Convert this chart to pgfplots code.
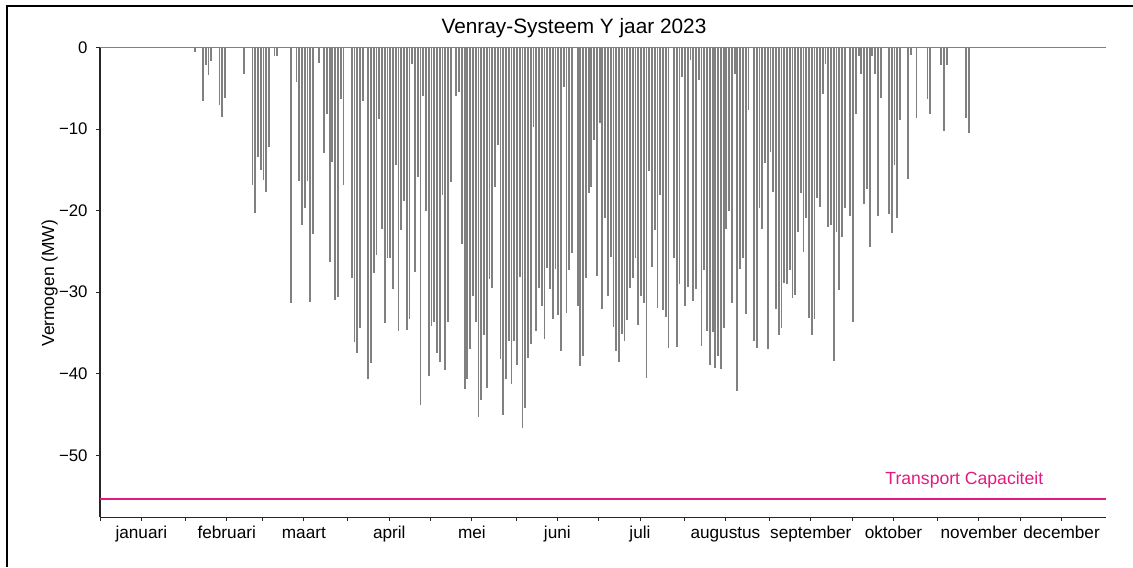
\documentclass[border=0pt]{standalone}
\usepackage{fontspec}
\setmainfont{Liberation Sans}
\usepackage{pgfplots}
\pgfplotsset{compat=1.18}
\usepackage{pgfplotstable}
\definecolor{capcol}{RGB}{228,25,128}
\definecolor{bargray}{RGB}{128,128,128}

\pgfplotstableread{
d v
34 -0.6
37 -6.6
38 -2.2
39 -3.4
40 -1.6
43 -7.1
44 -8.5
45 -6.2
52 -3.2
55 -16.9
56 -20.3
57 -13.4
58 -15.0
59 -16.3
60 -17.7
61 -12.2
63 -1.1
64 -1.1
69 -31.3
71 -4.2
72 -16.4
73 -21.8
74 -19.7
75 -16.4
76 -31.2
77 -22.9
79 -1.9
81 -12.9
82 -8.1
83 -26.3
84 -14.0
85 -30.9
86 -30.6
87 -6.3
88 -16.8
91 -28.3
92 -36.1
93 -37.5
94 -34.4
95 -6.5
97 -40.6
98 -38.7
99 -27.7
100 -25.4
101 -8.8
102 -22.2
103 -33.8
104 -25.8
105 -25.8
106 -29.6
107 -14.4
108 -34.8
109 -22.4
110 -18.8
111 -34.6
112 -33.3
113 -2.0
114 -27.5
115 -15.9
116 -43.8
117 -6.0
118 -20.1
119 -40.3
120 -34.2
121 -33.6
122 -37.4
123 -38.6
124 -18.1
125 -39.6
126 -33.6
127 -16.5
129 -5.9
130 -5.5
131 -24.1
132 -41.9
133 -40.7
134 -37.0
135 -30.5
136 -33.6
137 -45.3
138 -43.2
139 -35.2
140 -41.7
141 -28.4
142 -29.5
143 -17.1
144 -12.0
145 -38.2
146 -45.1
147 -40.7
148 -36.0
149 -41.3
150 -36.0
151 -38.9
152 -28.1
153 -46.6
154 -44.2
155 -38.1
156 -36.4
157 -9.8
158 -34.8
159 -29.5
160 -31.7
161 -35.7
162 -27.0
163 -29.6
164 -33.3
165 -27.2
166 -32.8
167 -37.2
168 -4.8
169 -32.6
170 -27.3
171 -25.2
173 -31.7
174 -39.1
175 -37.8
176 -28.2
177 -17.9
178 -17.1
179 -11.3
180 -28.0
181 -9.3
182 -32.1
183 -20.9
184 -30.5
185 -25.7
186 -34.3
187 -37.2
188 -38.5
189 -35.1
190 -36.0
191 -33.4
192 -29.5
193 -28.2
194 -25.8
195 -34.0
196 -30.5
197 -31.3
198 -40.5
199 -15.2
200 -26.9
201 -22.4
202 -31.9
203 -18.1
204 -32.2
205 -33.0
206 -36.8
208 -25.8
209 -36.7
210 -29.0
211 -3.6
212 -31.7
213 -29.4
214 -1.5
215 -31.1
216 -29.6
217 -4.0
218 -36.6
219 -27.3
220 -34.8
221 -38.9
222 -34.9
223 -39.3
224 -37.8
225 -39.4
226 -34.4
227 -22.2
228 -20.0
229 -31.3
230 -3.2
231 -42.1
232 -27.1
233 -25.8
234 -32.7
235 -7.7
237 -36.0
238 -36.8
239 -19.7
240 -22.2
241 -14.1
242 -37.0
243 -12.8
244 -17.7
245 -32.1
246 -35.3
247 -34.4
248 -28.9
249 -29.0
250 -27.3
251 -30.7
252 -30.3
253 -22.6
254 -17.9
255 -25.1
256 -20.9
257 -33.2
258 -35.3
259 -33.3
260 -18.5
261 -19.5
262 -5.7
263 -2.0
264 -22.0
265 -21.8
266 -38.4
267 -22.6
268 -29.7
269 -23.2
270 -19.7
272 -20.7
273 -33.7
274 -8.2
275 -1.0
276 -3.2
277 -19.2
278 -17.3
279 -24.5
280 -1.0
281 -3.2
282 -20.6
283 -6.2
286 -20.4
287 -22.7
288 -14.4
289 -20.9
290 -8.9
293 -16.1
294 -0.9
296 -8.6
300 -6.3
301 -8.1
305 -2.2
306 -10.2
307 -2.2
314 -8.7
315 -10.5
}\daily

\begin{document}
\begin{tikzpicture}
\useasboundingbox (-50pt,-24.85pt) rectangle (516.5pt,258.65pt);
\draw[line width=0.8pt] (-46.35pt,-24.85pt) -- (-46.35pt,255.65pt) -- (516.5pt,255.65pt);
\begin{axis}[
  at={(0pt,0pt)}, anchor=south west,
  scale only axis, width=502.8pt, height=234.9pt,
  xmin=0, xmax=365, ymin=-57.6, ymax=0,
  axis x line*=bottom, axis y line*=left,
  axis line style={black!85, line width=0.55pt, -},
  tick align=outside, major tick length=1.9pt,
  tick style={black!85, line width=0.5pt},
  xtick={0,31,59,90,120,151,181,212,243,273,304,334},
  xticklabels={},
  extra x ticks={15,46,74,105,135,166,196,227,258,288,319,349},
  extra x tick labels={januari,februari,maart,april,mei,juni,juli,augustus,september,oktober,november,december},
  extra x tick style={tick align=outside, major tick length=1.9pt,
    xticklabel style={anchor=base, inner sep=0pt, yshift=-8.85pt, font=\fontsize{8.6}{10}\selectfont}},
  ytick={-50,-40,-30,-20,-10,0},
  yticklabels={−50,−40,−30,−20,−10,0},
  yticklabel style={anchor=east, inner sep=0pt, xshift=-4.15pt, font=\fontsize{8.4}{10}\selectfont},
  clip=false,
]
\addplot[ycomb, draw=bargray, line width=0.9pt] table[x expr=\thisrow{d}+0.35, y=v] {\daily};
\addplot[bargray, line width=0.6pt] coordinates {(0,0) (365,0)};
\addplot[capcol, line width=1pt] coordinates {(0,-55.4) (365,-55.4)};
\end{axis}
\node[anchor=base, inner sep=0pt, font=\fontsize{10.4}{12}\selectfont] at (237pt,242pt) {Venray-Systeem Y jaar 2023};
\node[rotate=90, inner sep=0pt, font=\fontsize{8.7}{10}\selectfont] at (-25.25pt,117pt) {Vermogen (MW)};
\node[anchor=base west, inner sep=0pt, text=capcol, font=\fontsize{8.8}{10}\selectfont] at (392.5pt,16.5pt) {Transport Capaciteit};
\end{tikzpicture}
\end{document}
